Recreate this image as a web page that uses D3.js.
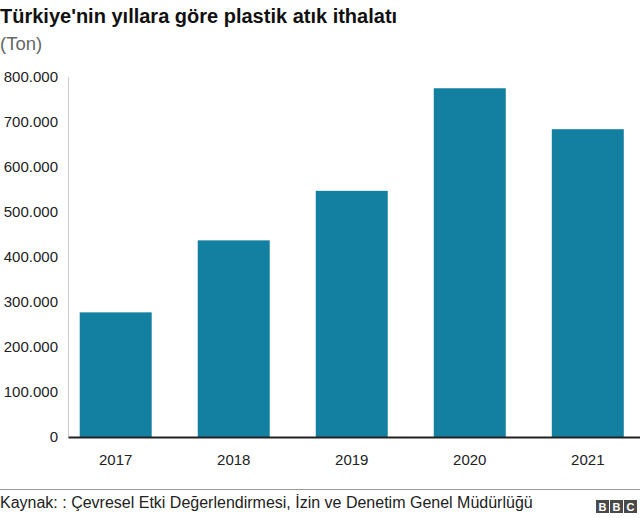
<!DOCTYPE html>
<html>
<head>
<meta charset="utf-8">
<script src="https://cdn.jsdelivr.net/npm/d3@7"></script>
<style>
  html, body { margin: 0; padding: 0; background: #fff; }
  svg { display: block; font-family: "Liberation Sans", Arial, Helvetica, sans-serif; }
</style>
</head>
<body>
<svg id="chart" width="640" height="518"></svg>
<script>
const title = "Türkiye'nin yıllara göre plastik atık ithalatı";
const subtitle = "(Ton)";
const source = "Kaynak: : Çevresel Etki Değerlendirmesi, İzin ve Denetim Genel Müdürlüğü";
const years = ["2017", "2018", "2019", "2020", "2021"];
const values = [277000, 437000, 547000, 775000, 684000];
const yTicks = [0, 100000, 200000, 300000, 400000, 500000, 600000, 700000, 800000];
const yTickLabels = ["0", "100.000", "200.000", "300.000", "400.000", "500.000", "600.000", "700.000", "800.000"];
const logoLetters = ["B", "B", "C"];

const svg = d3.select("#chart");
const W = 640, H = 518;
const mLeft = 68.5, mRight = 635, mTop = 77, mBottom = 437;

svg.append("text").attr("x", 0).attr("y", 23)
  .attr("font-size", 20).attr("font-weight", "bold").attr("fill", "#111")
  .text(title);
svg.append("text").attr("x", 0).attr("y", 50)
  .attr("font-size", 18.5).attr("fill", "#666")
  .text(subtitle);

const x = d3.scaleBand().domain(years).range([mLeft, mRight])
  .paddingInner(0.39).paddingOuter(0.095);
const y = d3.scaleLinear().domain([0, 800000]).range([mBottom, mTop]);

// vertical axis line
svg.append("line").attr("x1", mLeft).attr("x2", mLeft)
  .attr("y1", y(800000)).attr("y2", y(0))
  .attr("stroke", "#ccc").attr("stroke-width", 1);

// y axis labels
const yAxis = d3.axisLeft(y).tickValues(yTicks)
  .tickFormat((d, i) => yTickLabels[i]).tickSize(0).tickPadding(0);
const yg = svg.append("g").attr("transform", `translate(58,0)`).call(yAxis);
yg.select(".domain").remove();
yg.selectAll("text").attr("font-size", 15).attr("fill", "#222")
  .attr("font-family", "Liberation Sans, Arial, sans-serif");

// bars
svg.append("g").selectAll("rect").data(values).join("rect")
  .attr("x", (d, i) => x(years[i]))
  .attr("width", x.bandwidth())
  .attr("y", d => y(d))
  .attr("height", d => y(0) - y(d))
  .attr("fill", "#1380A1");

// baseline
svg.append("line").attr("x1", mLeft).attr("x2", W)
  .attr("y1", y(0) + 0.5).attr("y2", y(0) + 0.5)
  .attr("stroke", "#222").attr("stroke-width", 2);

// x axis labels
const xAxis = d3.axisBottom(x).tickSize(0).tickPadding(0);
const xg = svg.append("g").attr("transform", `translate(0,${mBottom + 17})`).call(xAxis);
xg.select(".domain").remove();
xg.selectAll("text").attr("font-size", 15).attr("fill", "#222")
  .attr("font-family", "Liberation Sans, Arial, sans-serif");

// footer
svg.append("line").attr("x1", 0).attr("x2", W).attr("y1", 489.5).attr("y2", 489.5)
  .attr("stroke", "#999").attr("stroke-width", 1);
svg.append("text").attr("x", 0).attr("y", 508)
  .attr("font-size", 16).attr("fill", "#222").text(source);

const logo = svg.append("g");
logoLetters.forEach((l, i) => {
  const lx = 596 + i * 14;
  logo.append("rect").attr("x", lx).attr("y", 500).attr("width", 13).attr("height", 13).attr("fill", "#4a4a4a");
  logo.append("text").attr("x", lx + 6.5).attr("y", 510.5).attr("text-anchor", "middle")
    .attr("font-size", 11).attr("font-weight", "bold").attr("fill", "#fff").text(l);
});
</script>
</body>
</html>
